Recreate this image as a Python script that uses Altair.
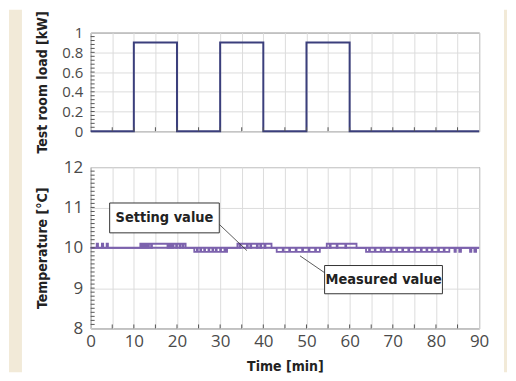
import altair as alt
import pandas as pd

# ---------------- data ----------------
load_t = [0, 10, 20, 30, 40, 50, 60, 90]
load_v = [0, 0.9, 0, 0.9, 0, 0.9, 0, 0]

set_t = [0, 90]
set_v = [10, 10]

meas_t = [0, 1.4, 1.7, 2.6, 2.9, 3.7, 4.0,
          11.5, 11.8, 12.0, 12.3, 12.5, 12.8, 13.0, 13.3, 13.5, 14.0, 14.2, 17.8, 18.0, 18.4,
          18.6, 19.0, 19.2, 19.8, 20.0, 20.6, 20.8, 21.3, 21.5, 22.0,
          24.0, 24.6, 24.8, 25.4, 25.6, 26.3, 26.5, 27.3, 27.5, 28.2, 28.4, 29.0, 29.2, 30.0,
          30.2, 31.0, 31.2, 31.6,
          34.0, 34.5, 34.7, 36.2, 36.4, 37.0, 37.2, 38.5, 38.7, 39.3, 39.5, 40.3, 40.5, 41.9,
          43.1, 44.5, 44.7, 46.0, 46.2, 47.5, 47.7, 49.0, 49.2, 50.5, 50.7, 52.0, 52.2, 53.1,
          54.7, 55.4, 55.6, 57.0, 57.2, 59.0, 59.2, 61.6,
          63.8, 64.5, 64.7, 65.8, 66.0, 67.2, 67.4, 68.0, 68.2, 69.5, 69.7, 70.8, 71.0, 72.2,
          72.4, 73.6, 73.8, 75.0, 75.2, 76.5, 76.7, 77.8, 78.0, 79.0, 79.2, 80.5, 80.7, 81.8,
          82.0, 83.1,
          84.3, 84.6, 85.4, 85.8, 87.9, 88.2, 88.9, 89.3, 90]
meas_v = [10, 10.1, 10, 10.1, 10, 10.1, 10,
          10.1, 10, 10.1, 10, 10.1, 10, 10.1, 10, 10.1, 10, 10.1, 10, 10.1, 10,
          10.1, 10, 10.1, 10, 10.1, 10, 10.1, 10, 10.1, 10,
          9.9, 10, 9.9, 10, 9.9, 10, 9.9, 10, 9.9, 10, 9.9, 10, 9.9, 10,
          9.9, 10, 9.9, 10,
          10.1, 10, 10.1, 10, 10.1, 10, 10.1, 10, 10.1, 10, 10.1, 10, 10.1, 10,
          9.9, 10, 9.9, 10, 9.9, 10, 9.9, 10, 9.9, 10, 9.9, 10, 9.9, 10,
          10.1, 10, 10.1, 10, 10.1, 10, 10.1, 10,
          9.9, 10, 9.9, 10, 9.9, 10, 9.9, 10, 9.9, 10, 9.9, 10, 9.9, 10,
          9.9, 10, 9.9, 10, 9.9, 10, 9.9, 10, 9.9, 10, 9.9, 10, 9.9, 10,
          9.9, 10,
          9.9, 10, 9.9, 10, 9.9, 10, 9.9, 10, 10]

time_grid = [0, 5, 10, 15, 20, 25, 30, 35, 40, 45, 50, 55, 60, 65, 70, 75, 80, 85, 90]
time_ticks = [5, 10, 15, 20, 25, 30, 35, 40, 45, 50, 55, 60, 65, 70, 75, 80, 85]
load_labels = [0, 0.2, 0.4, 0.6, 0.8, 1]
load_minor = [round(i * 0.04, 2) for i in range(1, 25)]
temp_labels = [8, 9, 10, 11, 12]
temp_minor = [round(8 + i * 0.1, 1) for i in range(1, 40)]

# annotations
ann_text = ["Setting value", "Measured value"]
ann_tx = [17.1, 67.9]
ann_ty = [10.74, 9.21]
ann_bx1 = [4.4, 54.2]
ann_bx2 = [29.8, 81.5]
ann_by1 = [10.37, 8.86]
ann_by2 = [11.11, 9.56]
lead_x1 = [29.8, 54.5]
lead_y1 = [10.58, 9.36]
lead_x2 = [36.2, 48.5]
lead_y2 = [9.93, 9.8]

# ---------------- style ----------------
W, H1, H2 = 390, 99, 162
BEIGE = "#f2ead8"
GRID = "#dcdcdc"
FRAME = "#555555"
NAVY = "#3b3f7c"
PURPLE = "#7c62ad"
LABEL_FONT = "Open Sans"
TITLE_FONT = "DejaVu Sans Condensed, Liberation Sans, sans-serif"

xs = alt.Scale(domain=[0, 90], nice=False, zero=False)
ys1 = alt.Scale(domain=[0, 1], nice=False)
ys2 = alt.Scale(domain=[8, 12], nice=False, zero=False)

one = pd.DataFrame({"a": [0]})

x_top_axis = alt.Axis(values=time_grid, labels=False, ticks=False, domain=False,
                      title=None, grid=True, gridColor=GRID)
y_top_axis = alt.Axis(values=load_labels, format="~g", ticks=False, domain=False,
                      grid=True, gridColor=GRID, labelPadding=8, labelFontSize=15,
                      title="Test room load [kW]", titleX=-48, titleY=H1 / 2,
                      titleAngle=-90, titleAlign="center", titleBaseline="middle")
x_bot_axis = alt.Axis(values=time_grid, ticks=False, domain=False, grid=True,
                      gridColor=GRID, labelExpr="datum.value % 10 == 0 ? datum.label : ''",
                      labelFlush=False, labelOverlap=False, labelPadding=5,
                      labelFontSize=17, title="Time [min]", titleX=W / 2, titleY=38,
                      titleAlign="center", titleBaseline="middle")
y_bot_axis = alt.Axis(values=temp_labels, ticks=False, domain=False, grid=True,
                      gridColor=GRID, labelPadding=8, labelFontSize=17,
                      title="Temperature [°C]", titleX=-48, titleY=H2 / 2,
                      titleAngle=-90, titleAlign="center", titleBaseline="middle")

# ---------------- top panel ----------------
load_df = pd.DataFrame({"t": load_t, "v": load_v})
load_line = alt.Chart(load_df).mark_line(color=NAVY, strokeWidth=2, interpolate="step-after").encode(
    x=alt.X("t:Q", scale=xs, axis=x_top_axis),
    y=alt.Y("v:Q", scale=ys1, axis=y_top_axis),
)

top_xt = alt.Chart(pd.DataFrame({"t": time_ticks})).mark_rule(color=FRAME, strokeWidth=1).encode(
    x=alt.X("t:Q", scale=xs, axis=x_top_axis), y=alt.value(H1), y2=alt.value(H1 - 4))
top_yt = alt.Chart(pd.DataFrame({"v": load_minor})).mark_rule(color=FRAME, strokeWidth=1).encode(
    y=alt.Y("v:Q", scale=ys1, axis=y_top_axis), x=alt.value(0), x2=alt.value(4))

strip_l = alt.Chart(one).mark_rect(color=BEIGE).encode(
    x=alt.value(-82), x2=alt.value(-69), y=alt.value(-23), y2=alt.value(341))
strip_r = alt.Chart(one).mark_rect(color=BEIGE).encode(
    x=alt.value(415), x2=alt.value(418), y=alt.value(-23), y2=alt.value(341))

top = alt.layer(load_line, top_xt, top_yt, strip_l, strip_r).properties(width=W, height=H1)

# ---------------- bottom panel ----------------
set_df = pd.DataFrame({"t": set_t, "v": set_v})
meas_df = pd.DataFrame({"t": meas_t, "v": meas_v})

set_line = alt.Chart(set_df).mark_line(color=PURPLE, strokeWidth=2.2).encode(
    x=alt.X("t:Q", scale=xs, axis=x_bot_axis),
    y=alt.Y("v:Q", scale=ys2, axis=y_bot_axis),
)
meas_line = alt.Chart(meas_df).mark_line(color=PURPLE, strokeWidth=1.8, interpolate="step-after").encode(
    x=alt.X("t:Q", scale=xs, axis=x_bot_axis), y=alt.Y("v:Q", scale=ys2, axis=y_bot_axis))

lead_df = pd.DataFrame({"x1": lead_x1, "y1": lead_y1, "x2": lead_x2, "y2": lead_y2})
leaders = alt.Chart(lead_df).mark_rule(color="#333333", strokeWidth=0.8).encode(
    x=alt.X("x1:Q", scale=xs, axis=x_bot_axis), x2="x2:Q",
    y=alt.Y("y1:Q", scale=ys2, axis=y_bot_axis), y2="y2:Q")

ann_df = pd.DataFrame({"txt": ann_text, "tx": ann_tx, "ty": ann_ty, "bx1": ann_bx1, "bx2": ann_bx2,
                       "by1": ann_by1, "by2": ann_by2})
boxes = alt.Chart(ann_df).mark_rect(fill="white", stroke="#333333", strokeWidth=1).encode(
    x=alt.X("bx1:Q", scale=xs, axis=x_bot_axis), x2="bx2:Q",
    y=alt.Y("by1:Q", scale=ys2, axis=y_bot_axis), y2="by2:Q")
texts = alt.Chart(ann_df).mark_text(font=TITLE_FONT, fontWeight="bold", fontSize=14.5, color="#222222",
                                    align="center", baseline="middle").encode(
    x=alt.X("tx:Q", scale=xs, axis=x_bot_axis), y=alt.Y("ty:Q", scale=ys2, axis=y_bot_axis), text="txt:N")

bot_xt = alt.Chart(pd.DataFrame({"t": time_ticks})).mark_rule(color=FRAME, strokeWidth=1).encode(
    x=alt.X("t:Q", scale=xs, axis=x_bot_axis), y=alt.value(H2), y2=alt.value(H2 - 4))
bot_yt = alt.Chart(pd.DataFrame({"v": temp_minor})).mark_rule(color=FRAME, strokeWidth=1).encode(
    y=alt.Y("v:Q", scale=ys2, axis=y_bot_axis), x=alt.value(0), x2=alt.value(4))

bottom = alt.layer(set_line, meas_line, leaders, boxes, texts, bot_xt, bot_yt).properties(width=W, height=H2)

chart = alt.vconcat(top, bottom, spacing=36, bounds="flush").properties(
    padding={"left": 0, "top": 0, "right": 0, "bottom": 0}, background="white"
).configure_view(stroke=FRAME, strokeWidth=1).configure_axis(
    labelFont=LABEL_FONT, labelColor="#4a4a4a", titleFont=TITLE_FONT, titleFontWeight="bold",
    titleFontSize=14, titleColor="#222222", gridWidth=1
)

chart.save("out.html", embed_options={"renderer": "svg", "actions": False})
